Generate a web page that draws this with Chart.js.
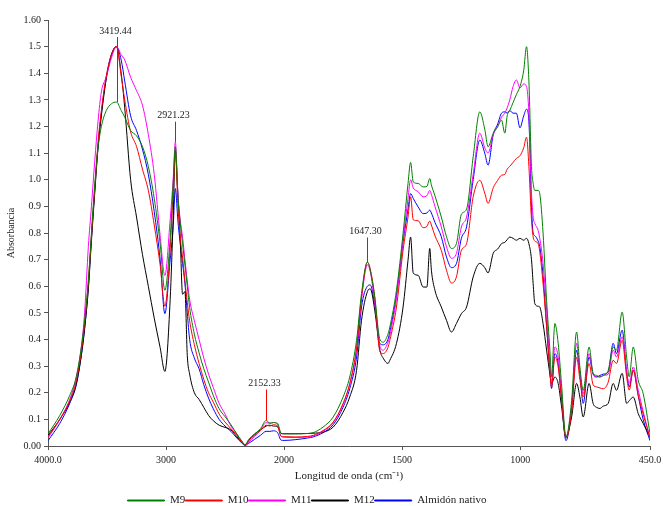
<!DOCTYPE html>
<html>
<head>
<meta charset="utf-8">
<script src="https://cdn.jsdelivr.net/npm/chart.js@4.4.1/dist/chart.umd.min.js"></script>
<style>
  html, body { margin: 0; padding: 0; background: #fff; }
  #wrap { width: 663px; height: 506px; }
</style>
</head>
<body>
<div id="wrap"><canvas id="ftir"></canvas></div>
<script>
// wavenumbers (cm-1) shared by every spectrum
const waves = [
  4000, 3900, 3816, 3760, 3718, 3690, 3658, 3632, 3604, 3576, 3548, 3506, 3463, 3420,
  3380, 3350, 3300, 3250, 3200, 3150, 3100, 3050, 3010, 2965, 2940, 2921,
  2900, 2880, 2860, 2840, 2820, 2800, 2760, 2720, 2680, 2640, 2600, 2550, 2500, 2450, 2400, 2360, 2330,
  2300, 2250, 2200, 2152, 2120, 2090, 2055, 2025, 2000,
  1950, 1900, 1877, 1835, 1792, 1750, 1722, 1693, 1672, 1647, 1635, 1616, 1594, 1580, 1560, 1552, 1524, 1496, 1475, 1464, 1453, 1432,
  1411, 1395, 1383, 1376, 1361, 1334, 1312, 1291, 1270, 1249, 1227, 1199, 1171, 1150, 1136, 1114, 1095, 1079, 1065, 1055, 1044, 1030, 1016, 1001, 985, 973, 963, 952, 945,
  938, 924, 917, 903, 888, 874, 867, 853, 839, 825, 806, 782, 761, 747, 733, 708, 691, 676, 662, 648, 627, 606, 592, 568, 549, 538, 521, 500, 479, 450
];

const m9 = [
  0.045, 0.115, 0.19, 0.26, 0.37, 0.47, 0.62, 0.80, 0.98, 1.12, 1.20, 1.26, 1.285, 1.292,
  1.26, 1.235, 1.185, 1.165, 1.125, 1.05, 0.93, 0.76, 0.585, 0.78, 0.98, 1.124,
  0.94, 0.84, 0.76, 0.68, 0.60, 0.52, 0.42, 0.35, 0.29, 0.24, 0.19, 0.14, 0.11, 0.08, 0.045, 0.02, 0.005,
  0.025, 0.045, 0.065, 0.096, 0.086, 0.088, 0.085, 0.048, 0.046,
  0.046, 0.047, 0.05, 0.071, 0.109, 0.184, 0.259, 0.397, 0.573, 0.691, 0.66, 0.56, 0.40, 0.39, 0.42, 0.447, 0.585, 0.798, 0.986, 1.065, 0.992, 0.986,
  0.973, 0.975, 1.005, 0.98, 0.94, 0.86, 0.786, 0.742, 0.76, 0.87, 0.89, 1.086, 1.255, 1.19, 1.124, 1.175, 1.20, 1.224, 1.175, 1.24, 1.26, 1.29, 1.32, 1.35, 1.41, 1.50, 1.37, 1.05, 0.987,
  0.96, 0.96, 0.948, 0.80, 0.547, 0.36, 0.26, 0.46, 0.386, 0.235, 0.034, 0.171, 0.428, 0.297, 0.209, 0.372, 0.273, 0.265, 0.259, 0.265, 0.284, 0.372, 0.36, 0.503, 0.334, 0.26, 0.372, 0.247, 0.197, 0.047
];

const m10 = [
  0.035, 0.10, 0.17, 0.245, 0.355, 0.46, 0.62, 0.79, 0.97, 1.14, 1.26, 1.39, 1.47, 1.50,
  1.39, 1.30, 1.18, 1.125, 1.04, 0.96, 0.83, 0.68, 0.525, 0.74, 0.95, 1.10,
  0.91, 0.785, 0.71, 0.62, 0.54, 0.47, 0.38, 0.31, 0.25, 0.20, 0.165, 0.12, 0.09, 0.065, 0.04, 0.015, 0.003,
  0.02, 0.04, 0.058, 0.078, 0.075, 0.08, 0.075, 0.036, 0.035,
  0.034, 0.036, 0.04, 0.058, 0.09, 0.16, 0.235, 0.37, 0.56, 0.69, 0.665, 0.56, 0.355, 0.347, 0.37, 0.397, 0.522, 0.735, 0.86, 0.936, 0.85, 0.846,
  0.82, 0.825, 0.845, 0.83, 0.79, 0.735, 0.66, 0.612, 0.635, 0.735, 0.76, 0.936, 0.998, 0.95, 0.911, 0.97, 0.998, 1.017, 1.02, 1.04, 1.05, 1.065, 1.08, 1.09, 1.12, 1.16, 1.05, 0.85, 0.785,
  0.77, 0.76, 0.73, 0.61, 0.45, 0.28, 0.222, 0.334, 0.297, 0.18, 0.03, 0.13, 0.334, 0.25, 0.184, 0.31, 0.23, 0.222, 0.218, 0.215, 0.24, 0.322, 0.31, 0.397, 0.26, 0.21, 0.285, 0.19, 0.12, 0.03
];

const m11 = [
  0.03, 0.10, 0.175, 0.26, 0.37, 0.50, 0.75, 0.90, 1.07, 1.22, 1.33, 1.387, 1.457, 1.50,
  1.47, 1.45, 1.385, 1.335, 1.28, 1.17, 1.02, 0.79, 0.64, 0.85, 1.0, 1.142,
  0.95, 0.85, 0.785, 0.70, 0.62, 0.55, 0.47, 0.40, 0.33, 0.27, 0.22, 0.16, 0.12, 0.075, 0.045, 0.018, 0.003,
  0.015, 0.035, 0.06, 0.088, 0.085, 0.088, 0.08, 0.036, 0.033,
  0.032, 0.034, 0.037, 0.055, 0.087, 0.157, 0.23, 0.36, 0.55, 0.68, 0.655, 0.54, 0.375, 0.36, 0.39, 0.415, 0.555, 0.775, 0.93, 1.0, 0.97, 0.955,
  0.936, 0.94, 0.96, 0.945, 0.90, 0.823, 0.748, 0.705, 0.723, 0.823, 0.86, 1.02, 1.175, 1.12, 1.10, 1.17, 1.20, 1.235, 1.25, 1.27, 1.30, 1.35, 1.375, 1.345, 1.36, 1.35, 1.25, 0.95, 0.86,
  0.836, 0.81, 0.78, 0.686, 0.51, 0.31, 0.235, 0.372, 0.334, 0.20, 0.03, 0.15, 0.386, 0.28, 0.197, 0.347, 0.27, 0.259, 0.26, 0.265, 0.27, 0.36, 0.334, 0.41, 0.28, 0.235, 0.297, 0.21, 0.13, 0.03
];

const m12 = [
  0.04, 0.10, 0.165, 0.235, 0.34, 0.44, 0.59, 0.77, 0.95, 1.12, 1.24, 1.38, 1.47, 1.50,
  1.40, 1.27, 1.0, 0.86, 0.72, 0.60, 0.48, 0.37, 0.28, 0.55, 0.85, 1.11,
  0.95, 0.78, 0.57, 0.58, 0.34, 0.27, 0.20, 0.175, 0.145, 0.115, 0.095, 0.078, 0.07, 0.06, 0.035, 0.015, 0.003,
  0.02, 0.045, 0.06, 0.075, 0.078, 0.075, 0.072, 0.047, 0.046,
  0.046, 0.047, 0.048, 0.052, 0.071, 0.127, 0.184, 0.284, 0.472, 0.58, 0.59, 0.51, 0.36, 0.33, 0.31, 0.322, 0.385, 0.522, 0.698, 0.785, 0.65, 0.641,
  0.597, 0.597, 0.742, 0.66, 0.585, 0.522, 0.472, 0.428, 0.46, 0.497, 0.522, 0.635, 0.686, 0.67, 0.65, 0.724, 0.74, 0.76, 0.765, 0.775, 0.785, 0.78, 0.773, 0.78, 0.773, 0.78, 0.76, 0.70, 0.61,
  0.535, 0.525, 0.522, 0.46, 0.36, 0.27, 0.235, 0.259, 0.235, 0.15, 0.034, 0.109, 0.235, 0.184, 0.109, 0.235, 0.16, 0.145, 0.141, 0.15, 0.16, 0.235, 0.209, 0.273, 0.16, 0.17, 0.184, 0.122, 0.085, 0.034
];

const nativo = [
  0.02, 0.085, 0.16, 0.23, 0.34, 0.44, 0.60, 0.78, 0.96, 1.13, 1.25, 1.385, 1.468, 1.50,
  1.45, 1.37, 1.24, 1.185, 1.115, 1.02, 0.88, 0.70, 0.497, 0.70, 0.82, 0.967,
  0.848, 0.76, 0.686, 0.61, 0.50, 0.40, 0.33, 0.29, 0.23, 0.18, 0.14, 0.10, 0.075, 0.055, 0.03, 0.012, 0.002,
  0.01, 0.025, 0.04, 0.055, 0.055, 0.057, 0.05, 0.022, 0.021,
  0.024, 0.03, 0.034, 0.05, 0.08, 0.146, 0.215, 0.334, 0.522, 0.60, 0.605, 0.53, 0.385, 0.38, 0.40, 0.43, 0.565, 0.765, 0.89, 0.948, 0.93, 0.898,
  0.873, 0.875, 0.886, 0.875, 0.84, 0.786, 0.71, 0.67, 0.685, 0.78, 0.823, 1.0, 1.149, 1.10, 1.055, 1.17, 1.21, 1.25, 1.255, 1.25, 1.26, 1.25, 1.25, 1.195, 1.24, 1.265, 1.22, 0.90, 0.80,
  0.79, 0.77, 0.75, 0.64, 0.45, 0.28, 0.216, 0.347, 0.31, 0.18, 0.02, 0.14, 0.36, 0.27, 0.16, 0.334, 0.27, 0.26, 0.265, 0.27, 0.278, 0.386, 0.347, 0.435, 0.28, 0.222, 0.285, 0.19, 0.10, 0.02
];

const seriesNames = ['M9', 'M10', 'M11', 'M12', 'Almidón nativo'];
const seriesColors = ['#008000', '#ff0000', '#ff00ff', '#000000', '#0000ff'];

const xTickWaves = [4000, 3000, 2000, 1500, 1000, 450];
const xTickLabels = ['4000.0', '3000', '2000', '1500', '1000', '450.0'];

// labelled peaks: marker runs from peakTop down to peakBottom (absorbance)
const peakWaves = [3419.44, 2921.23, 2152.33, 1647.30];
const peakLabels = ['3419.44', '2921.23', '2152.33', '1647.30'];
const peakTop = [1.536, 1.218, 0.212, 0.783];
const peakBottom = [1.292, 1.142, 0.096, 0.691];

// the axis is stretched x2 below 2000 cm-1, like the instrument printout
function wavePos(w) {
  return w >= 2000 ? 4000 - w : 2000 + (2000 - w) * 2;
}

const serif = '"Liberation Serif", "Times New Roman", serif';
const allSeries = [m9, m10, m11, m12, nativo];

const datasets = allSeries.map((vals, i) => ({
  label: seriesNames[i],
  data: vals.map((v, j) => ({ x: wavePos(waves[j]), y: v })),
  borderColor: seriesColors[i],
  backgroundColor: seriesColors[i],
  borderWidth: 1,
  pointRadius: 0,
  cubicInterpolationMode: 'monotone'
}));

const peakMarks = {
  id: 'peakMarks',
  afterDatasetsDraw(chart) {
    const { ctx, scales: { x, y } } = chart;
    ctx.save();
    ctx.lineWidth = 1;
    ctx.font = '10px ' + serif;
    ctx.textAlign = 'center';
    ctx.textBaseline = 'bottom';
    peakWaves.forEach((w, i) => {
      const px = Math.round(x.getPixelForValue(wavePos(w))) + 0.5;
      const top = y.getPixelForValue(peakTop[i]);
      const bottom = y.getPixelForValue(peakBottom[i]);
      ctx.strokeStyle = '#ff0000';
      ctx.beginPath();
      ctx.moveTo(px, top);
      ctx.lineTo(px, bottom);
      ctx.stroke();
      ctx.fillStyle = '#222';
      ctx.fillText(peakLabels[i], px - 2, top - 1);
    });
    ctx.restore();
  }
};

// legend in the original sits a bit left of centre
const legendShift = {
  id: 'legendShift',
  afterLayout(chart) {
    chart.legend.left -= 18;
    chart.legend.right -= 18;
  }
};

new Chart(document.getElementById('ftir'), {
  type: 'line',
  data: { datasets },
  options: {
    responsive: true,
    maintainAspectRatio: false,
    animation: false,
    devicePixelRatio: 1,
    layout: { padding: { top: 20, right: 13, left: 0, bottom: -10 } },
    plugins: {
      tooltip: { enabled: false },
      legend: {
        position: 'bottom',
        labels: {
          boxWidth: 37,
          boxHeight: 1,
          padding: 0,
          color: '#222',
          font: { family: serif, size: 11 }
        }
      }
    },
    scales: {
      x: {
        type: 'linear',
        min: 0,
        max: wavePos(450),
        afterBuildTicks(scale) {
          scale.ticks = xTickWaves.map(w => ({ value: wavePos(w) }));
        },
        afterFit(scale) {
          scale.height = 49;
          scale.paddingLeft = 0;
          scale.paddingRight = 0;
        },
        ticks: {
          autoSkip: false,
          maxRotation: 0,
          padding: 4,
          color: '#222',
          font: { family: serif, size: 10 },
          callback(value) {
            const i = xTickWaves.findIndex(w => wavePos(w) === value);
            return i >= 0 ? xTickLabels[i] : '';
          }
        },
        grid: { drawOnChartArea: false, drawTicks: true, tickLength: 4, color: '#555' },
        border: { display: true, color: '#555' },
        title: {
          display: true,
          text: 'Longitud de onda (cm⁻¹)',
          color: '#222',
          font: { family: serif, size: 11 },
          padding: { top: 3, bottom: 12 }
        }
      },
      y: {
        min: 0,
        max: 1.6,
        afterFit(scale) {
          scale.width = 48;
          scale.paddingTop = 0;
          scale.paddingBottom = 0;
        },
        ticks: {
          stepSize: 0.1,
          padding: 3,
          color: '#222',
          font: { family: serif, size: 10 },
          callback(value) {
            if (Math.abs(value) < 1e-9) return '0.00';
            if (Math.abs(value - 1.6) < 1e-9) return '1.60';
            return value.toFixed(1);
          }
        },
        grid: { drawOnChartArea: false, drawTicks: true, tickLength: 4, color: '#555' },
        border: { display: true, color: '#555' },
        title: {
          display: true,
          text: 'Absorbancia',
          color: '#222',
          font: { family: serif, size: 10 },
          padding: { top: 5, bottom: 2 }
        }
      }
    }
  },
  plugins: [peakMarks, legendShift]
});
</script>
</body>
</html>
